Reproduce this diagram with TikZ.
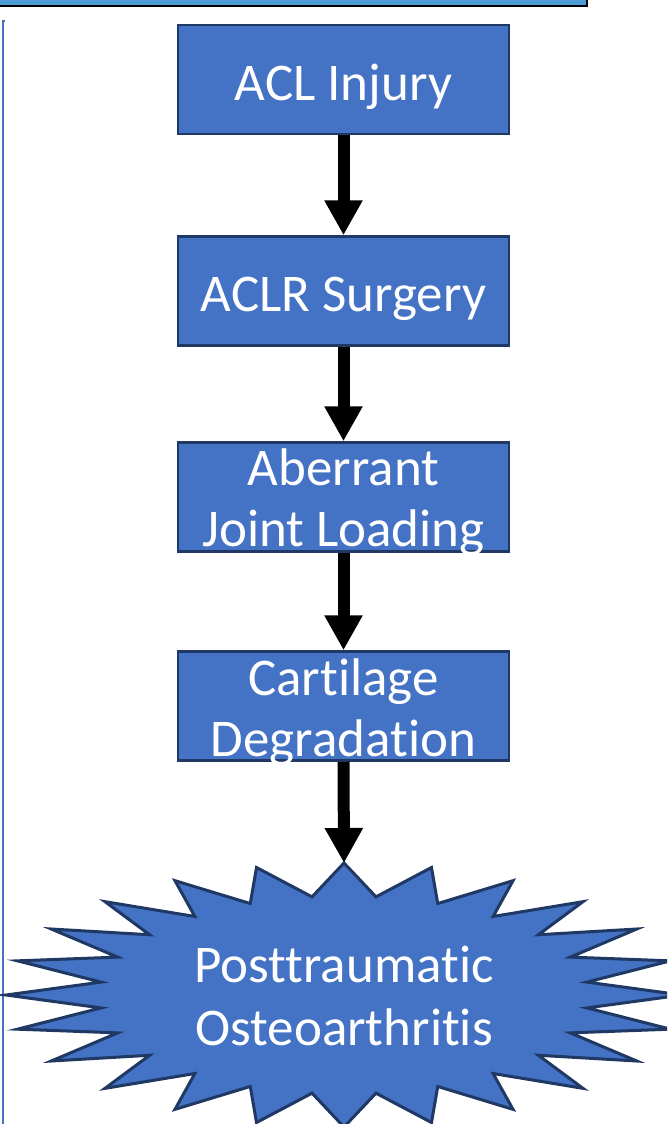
\documentclass[tikz,border=0pt]{standalone}
\usepackage{fontspec}
\setmainfont{Carlito}[Ligatures={NoCommon,NoContextual}]
\usetikzlibrary{arrows.meta}
\definecolor{boxfill}{HTML}{4472C4}
\definecolor{boxline}{HTML}{1F3864}
\definecolor{barfill}{HTML}{4E9DD6}
\tikzset{
  stepbox/.style={rectangle, draw=boxline, fill=boxfill, line width=2.5pt,
    minimum width=331pt, minimum height=109pt, inner sep=0pt},
  lbl/.style={text=white, font=\fontsize{53}{62}\selectfont, anchor=base, inner sep=0pt},
  flow/.style={line width=12pt, draw=black, -{Triangle[width=36pt,length=35pt]}},
  burst/.style={draw=boxline, fill=boxfill, line width=3pt, line join=miter},
}
\begin{document}
\begin{tikzpicture}[x=1pt,y=-1pt]
\useasboundingbox (0,0) rectangle (667,1124);
\clip (0,0) rectangle (667,1124);
\fill[white] (0,0) rectangle (667,1124);
% top bar
\draw[fill=barfill, draw=black, line width=2.5pt] (-10,-20) rectangle (587,6);
% left frame line
\draw[draw=boxfill, line width=2pt] (2.5,1140) -- (2.5,21) -- (5,21);
% boxes
\node[stepbox] (b1) at (343.5,79.5) {};
\node[stepbox] (b2) at (343.5,291) {};
\node[stepbox] (b3) at (343.5,497) {};
\node[stepbox] (b4) at (343.5,706) {};
% starburst
\coordinate (sc) at (344,995);
\coordinate (stip) at (344,863);
\draw[burst] (stip) \foreach \i in {1,...,47} {
  -- ({344+(338-93*mod(\i,2))*sin(7.5*\i)}, {995-(132-33*mod(\i,2))*cos(7.5*\i)})
} -- cycle;
% labels
\node[lbl] (t1) at (343.5,100) {ACL Injury};
\node[lbl] (t2) at (343.5,311) {ACLR Surgery};
\node[lbl] (t3a) at (343.5,485) {Aberrant};
\node[lbl] (t3b) at (343.5,546) {Joint Loading};
\node[lbl] (t4a) at (343.5,695) {Cartilage};
\node[lbl] (t4b) at (343.5,756) {Degradation};
\node[lbl] (t5a) at (344,982) {Posttraumatic};
\node[lbl] (t5b) at (344,1045) {Osteoarthritis};
% arrows
\draw[flow] (b1.south) -- (b2.north);
\draw[flow] (b2.south) -- (b3.north);
\draw[flow] (b3.south) -- (b4.north);
\draw[flow] (b4.south) -- (stip);
\end{tikzpicture}
\end{document}
